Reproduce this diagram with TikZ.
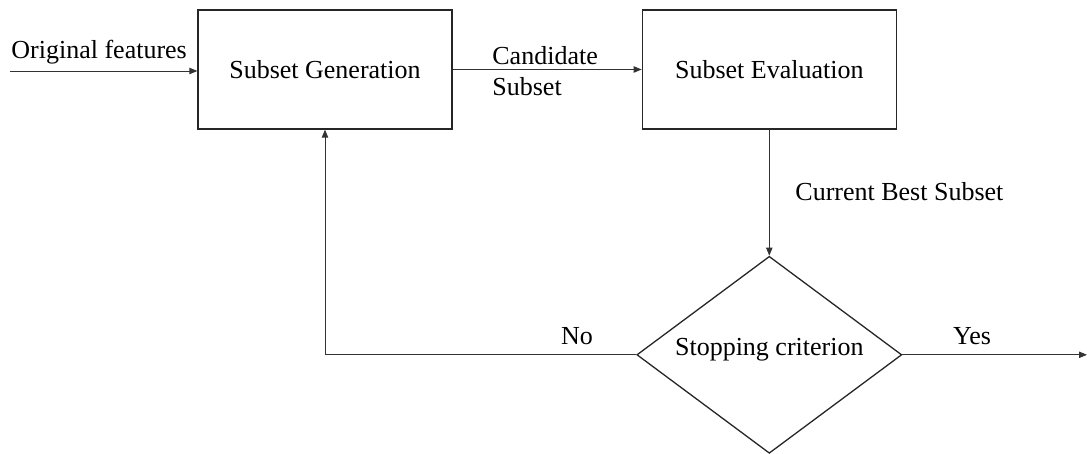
\documentclass[tikz,border=0pt]{standalone}
\usepackage{fontspec}
\setmainfont{Liberation Serif}
\usetikzlibrary{shapes.geometric,arrows.meta,positioning}

\begin{document}
\begin{tikzpicture}[
    x=0.5pt, y=-0.5pt,
    node distance=63pt and 94.5pt,
    box/.style={rectangle, draw=black!85, line width=0.65pt, align=center, minimum height=59.5pt, minimum width=127pt, font=\fontsize{13}{15.6}\selectfont},
    cond/.style={diamond, draw=black!85, line width=0.65pt, aspect=1.35, inner sep=1pt, text depth=8pt, minimum width=132.5pt, minimum height=98.5pt, font=\fontsize{13}{15.6}\selectfont},
    lbl/.style={inner sep=0pt, align=left, font=\fontsize{13}{15.6}\selectfont},
    arr/.style={-{Triangle[length=4pt, width=3.2pt]}, line width=0.45pt, draw=black!80}
]
    \useasboundingbox (0,0) rectangle (1087,454);

    \node [box] at (325,69.5) (gen) {Subset Generation};
    \node [box, right=of gen] (eval) {Subset Evaluation};
    \node [cond, below=of eval] (stop) {Stopping criterion};

    \coordinate (in) at (10,71);
    \coordinate (out) at (1087,356);

    \node [lbl, anchor=west] at (11,52) (lorig) {Original features};
    \node [lbl, anchor=west] at (492,71) (lcand) {Candidate\\Subset};
    \node [lbl, anchor=west] at (795,192) (lbest) {Current Best Subset};
    \node [lbl] at (577,336) (lno) {No};
    \node [lbl] at (972,336) (lyes) {Yes};

    \draw [arr] (in) -- (in -| gen.west);
    \draw [arr] (gen) -- (eval);
    \draw [arr] (eval) -- (stop);
    \draw [arr] (stop.west) -| (gen.south);
    \draw [arr] (stop.east) -- (stop.east -| out);
\end{tikzpicture}
\end{document}
